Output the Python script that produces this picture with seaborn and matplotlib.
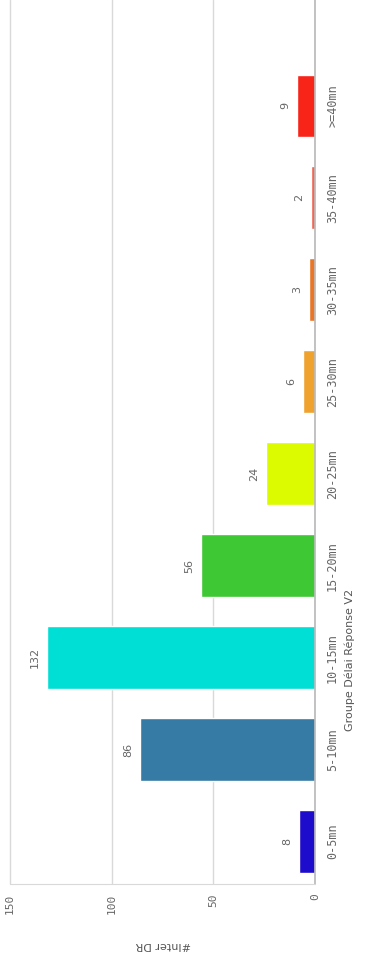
import pandas as pd
import seaborn as sns
import matplotlib.pyplot as plt

# données du graphique
groupes = ["0-5mn", "5-10mn", "10-15mn", "15-20mn", "20-25mn",
           "25-30mn", "30-35mn", "35-40mn", ">=40mn"]
nb_inter = [8, 86, 132, 56, 24, 6, 3, 2, 9]
couleurs = ["#1e0ccc", "#357ba5", "#00dfd5", "#3ec834", "#dcfa00",
            "#f0a22e", "#eb7526", "#f46452", "#f82418"]
ticks_valeurs = [0, 50, 100, 150]

df = pd.DataFrame({"Groupe": groupes, "Inter": nb_inter})

sns.set_style("white")
plt.rcParams['font.family'] = ['DejaVu Sans']

fig = plt.figure(figsize=(3.65, 9.55), dpi=100)
ax = fig.add_axes([0, 1 - 884 / 955, 315 / 365, 884 / 955])

sns.barplot(data=df, y="Groupe", x="Inter", hue="Groupe", palette=couleurs,
            order=groupes, orient="h", width=0.68, legend=False, ax=ax,
            saturation=1)

# graphique tourné : valeurs vers la gauche, catégories de bas en haut
ax.set_xlim(155, 0)
ax.set_ylim(-0.46, 9.15)

# valeurs des barres
for i, v in enumerate(nb_inter):
    ax.annotate(str(v), xy=(v, i), xytext=(-5, 0), textcoords="offset points",
                ha="right", va="center", rotation=90, fontsize=8,
                color="#666666")

# grille verticale
ax.set_xticks(ticks_valeurs)
ax.set_xticklabels([str(t) for t in ticks_valeurs], rotation=90,
                   family="DejaVu Sans Mono", fontsize=8, color="#666666")
ax.grid(axis="x", color="#d9d9d9", linewidth=1)
ax.set_axisbelow(True)

ax.yaxis.tick_right()
ax.set_yticks(range(len(groupes)))
ax.set_yticklabels(groupes, rotation=90, va="center", ha="left",
                   family="DejaVu Sans Mono", fontsize=8.5, color="#666666")

ax.tick_params(axis="x", length=4, color="#d9d9d9", pad=3)
ax.tick_params(axis="y", length=0, pad=8)

for s in ["top", "left"]:
    ax.spines[s].set_visible(False)
ax.spines["right"].set_color("#b8b8b8")
ax.spines["right"].set_linewidth(1.2)
ax.spines["bottom"].set_color("#d9d9d9")
ax.spines["bottom"].set_bounds(0, 150)

ax.set_xlabel("#Inter DR", rotation=180, fontsize=8, color="#555555")
ax.xaxis.set_label_coords(0.517, -0.063)
ax.yaxis.set_label_position("right")
ax.set_ylabel("Groupe Délai Réponse V2", rotation=90, fontsize=8,
              color="#555555")
ax.yaxis.set_label_coords(1.095, 0.253)

plt.savefig("out.png", dpi=100)
plt.close()
